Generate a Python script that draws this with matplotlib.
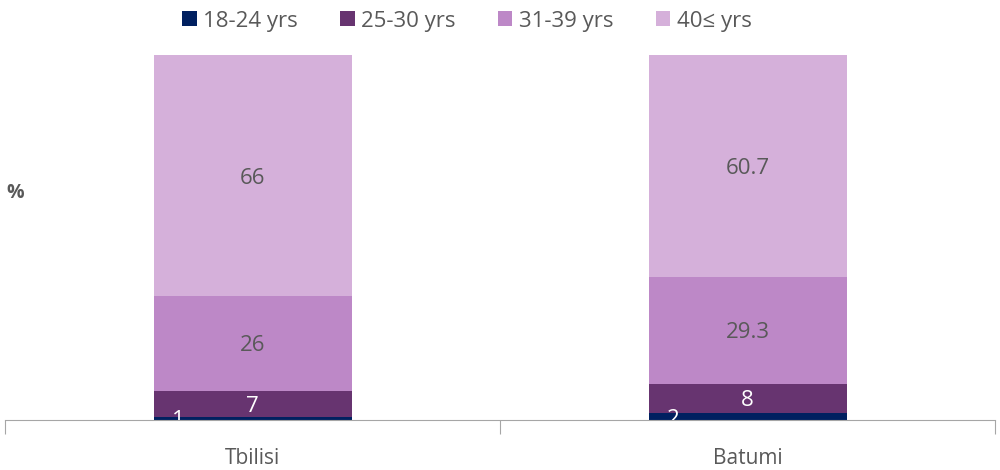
import numpy as np
import matplotlib
matplotlib.use('Agg')
import matplotlib.pyplot as plt

cities = ['Tbilisi', 'Batumi']
age_groups = ['18-24 yrs', '25-30 yrs', '31-39 yrs', '40\u2264 yrs']
age_18_24 = [1, 2]
age_25_30 = [7, 8]
age_31_39 = [26, 29.3]
age_40_up = [66, 60.7]

series = [age_18_24, age_25_30, age_31_39, age_40_up]
colors = ['#002060', '#673470', '#bd88c7', '#d5b0da']
text_colors = ['white', 'white', '#595959', '#595959']

plt.rcParams['font.family'] = ['Open Sans', 'DejaVu Sans']

fig = plt.figure(figsize=(10, 4.7), dpi=100)
ax = fig.add_axes([0.005, 0.106, 0.99, 0.777])

x = np.arange(len(cities))
bottom = np.zeros(len(cities))
for i, (vals, color) in enumerate(zip(series, colors)):
    vals = np.array(vals, dtype=float)
    ax.bar(x, vals, width=0.4, bottom=bottom, color=color, label=age_groups[i],
           edgecolor='none')
    for j, v in enumerate(vals):
        label = f'{v:g}'
        # the thin bottom segment labels sit left of centre in the reference
        xpos = x[j] - 0.15 if i == 0 else x[j]
        ax.text(xpos, bottom[j] + v / 2, label, ha='center', va='center_baseline',
                fontsize=16, color=text_colors[i], clip_on=True)
    bottom += vals

ax.set_xlim(-0.5, 1.5)
ax.set_ylim(0, 100)
ax.set_yticks([])
for side in ['top', 'right', 'left']:
    ax.spines[side].set_visible(False)
ax.spines['bottom'].set_color('#a6a6a6')

# category dividers as major ticks, names as minor ticks
ax.set_xticks([-0.5, 0.5, 1.5])
ax.set_xticklabels([])
ax.tick_params(axis='x', which='major', length=10, color='#a6a6a6')
ax.set_xticks(x, minor=True)
ax.set_xticklabels(cities, minor=True)
ax.tick_params(axis='x', which='minor', length=0, pad=20, labelsize=15,
               labelcolor='#595959')

fig.text(0.006, 0.59, '%', fontsize=14, fontweight='bold', color='#595959',
         va='center', ha='left')

fig.legend(loc='upper center', bbox_to_anchor=(0.467, 1.02), ncol=4, frameon=False,
           fontsize=16, handlelength=0.65, handleheight=0.65, handletextpad=0.3,
           columnspacing=1.9, labelcolor='#595959')

fig.savefig('out.png', dpi=100)
